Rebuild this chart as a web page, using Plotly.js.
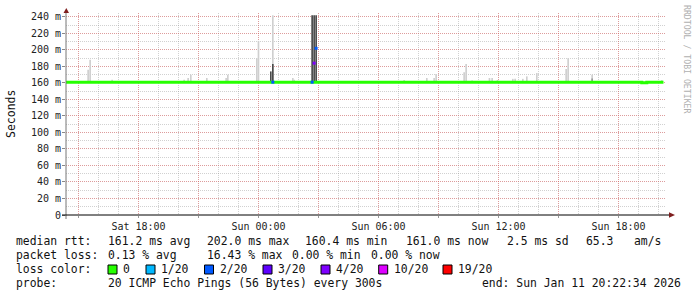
<!DOCTYPE html>
<html><head><meta charset="utf-8">
<script src="https://cdn.plot.ly/plotly-3.0.1.min.js"></script>
<style>html,body{margin:0;padding:0;background:#fff}#chart{width:697px;height:297px}</style>
</head><body><div id="chart"></div>
<script>
// ---------- data ----------
const rangeStart = '2026-01-10 14:22:34';
const rangeEnd = '2026-01-11 20:22:34';
const yMax = 244.8;

const tickTimes = ['2026-01-10 15:00','2026-01-10 18:00','2026-01-10 21:00','2026-01-11 00:00','2026-01-11 03:00',
  '2026-01-11 06:00','2026-01-11 09:00','2026-01-11 12:00','2026-01-11 15:00','2026-01-11 18:00'];
const tickLabels = ['','Sat 18:00','','Sun 00:00','','Sun 06:00','','Sun 12:00','','Sun 18:00'];
const yTickValues = [0,20,40,60,80,100,120,140,160,180,200,220,240];
const yTickLabels = ['0','20 m','40 m','60 m','80 m','100 m','120 m','140 m','160 m','180 m','200 m','220 m','240 m'];

const smokeBase = 160;
const lightTimes = ['2026-01-10 15:29','2026-01-10 15:35','2026-01-10 16:41','2026-01-10 20:17','2026-01-10 20:29',
  '2026-01-10 20:37','2026-01-10 21:25','2026-01-10 22:23','2026-01-10 22:28','2026-01-10 23:55',
  '2026-01-11 00:00','2026-01-11 00:43','2026-01-11 01:43','2026-01-11 01:47','2026-01-11 07:17',
  '2026-01-11 08:25','2026-01-11 08:47','2026-01-11 08:53','2026-01-11 10:17','2026-01-11 10:23',
  '2026-01-11 10:41','2026-01-11 11:33','2026-01-11 11:41','2026-01-11 11:57','2026-01-11 12:43',
  '2026-01-11 12:50','2026-01-11 13:13','2026-01-11 13:25','2026-01-11 13:55','2026-01-11 15:23',
  '2026-01-11 15:29','2026-01-11 16:41','2026-01-11 20:10'];
const lightTops = [176,188,164,164,166,170,166,166,170,190,
  211,242,166,164,163.5,166,166,171,173,183,
  163,166,166,163.5,165,165,165,168,172,177,
  190,170,163.5];
const midTimes = ['2026-01-11 16:41'];
const midTops = [165.5];
const darkTimes = ['2026-01-11 00:37','2026-01-11 00:43','2026-01-11 02:41','2026-01-11 02:47','2026-01-11 02:53'];
const darkTops = [174,183,242,242,242];

const medianTimes = ['2026-01-10 14:22:34','2026-01-11 19:10','2026-01-11 19:25','2026-01-11 20:15'];
const medianValues = [161,160.4,161,161];

const lossLabels = ['0','1/20','2/20','3/20','4/20','10/20','19/20'];
const lossColors = ['#26ff00','#00b8ff','#0059ff','#5e00ff','#7e00ff','#dd00ff','#ff0000'];
const lossTimes = ['2026-01-11 00:43','2026-01-11 02:41','2026-01-11 02:47','2026-01-11 02:53'];
const lossValues = [161,161,184,202];
const lossLevels = ['2/20','2/20','4/20','2/20'];

const rttStats = ['161.2 ms avg','202.0 ms max','160.4 ms min','161.0 ms now','2.5 ms sd','65.3','am/s'];
const lossStats = ['0.13 % avg','16.43 % max','0.00 % min','0.00 % now'];
const probeText = '20 ICMP Echo Pings (56 Bytes) every 300s';
const endText = 'end: Sun Jan 11 20:22:34 2026';

// ---------- layout helpers ----------
const L=66, R=666, T=13, B=215;
const px = x => (x-L)/(R-L);
const py = y => (B-y)/(B-T);
const mono = 'DejaVu Sans Mono';
const FIVE_MIN = 300000;

const traces = [
  {type:'bar', x:lightTimes, y:lightTops.map(v=>v-smokeBase), base:smokeBase, width:FIVE_MIN,
   marker:{color:'#cfcfcf', line:{width:0}}, hoverinfo:'skip'},
  {type:'bar', x:midTimes, y:midTops.map(v=>v-smokeBase), base:smokeBase, width:FIVE_MIN,
   marker:{color:'#999999', line:{width:0}}, hoverinfo:'skip'},
  {type:'bar', x:darkTimes, y:darkTops.map(v=>v-smokeBase), base:smokeBase, width:FIVE_MIN,
   marker:{color:'#4a4a4a', line:{width:0}}, hoverinfo:'skip'},
  {type:'scatter', mode:'lines', x:medianTimes, y:medianValues, line:{color:lossColors[0], width:3, shape:'hv'}, hoverinfo:'skip'},
  {type:'scatter', mode:'markers', x:lossTimes, y:lossValues,
   marker:{symbol:'square', size:3, color:lossLevels.map(l=>lossColors[lossLabels.indexOf(l)]), line:{width:0}}, hoverinfo:'skip'}
];

const ann = [];
const shapes = [];
function txt(x, y, text, opts={}) {
  ann.push(Object.assign({xref:'paper', yref:'paper', x:px(x), y:py(y), text:text.replace(/ /g,'\u00a0'),
    showarrow:false, xanchor:'left', yanchor:'middle', borderpad:0, borderwidth:0,
    font:{family:mono, size:11.4, color:'#111'}}, opts));
}
const rowY = [241, 255, 269, 283];
txt(16, rowY[0], 'median rtt:');
[108.3,207.3,305,406.3,507,586,634.3].forEach((x,i)=>txt(x,rowY[0],rttStats[i]));
txt(16, rowY[1], 'packet loss:');
[108.3,207.3,292,371].forEach((x,i)=>txt(x,rowY[1],lossStats[i]));
txt(16, rowY[2], 'loss color:');
const boxX = [108,146,204.5,263,321,378.7,443];
boxX.forEach((x,i)=>{
  shapes.push({type:'rect', xref:'paper', yref:'paper', x0:px(x), x1:px(x+9), y0:py(274), y1:py(265),
    fillcolor:lossColors[i], line:{color:'#000', width:1}, layer:'above'});
  txt(x+15, rowY[2], lossLabels[i]);
});
txt(16, rowY[3], 'probe:');
txt(107.6, rowY[3], probeText);
txt(681, rowY[3], endText, {xanchor:'right'});
// y title
ann.push({xref:'paper', yref:'paper', x:px(11), y:py(114), text:'Seconds', textangle:-90, showarrow:false,
  xanchor:'center', yanchor:'middle', font:{family:mono, size:11.5, color:'#111'}});
// watermark
ann.push({xref:'paper', yref:'paper', x:px(687), y:py(59), text:'RRDTOOL / TOBI OETIKER', textangle:90, showarrow:false,
  xanchor:'center', yanchor:'middle', font:{family:mono, size:8.2, color:'#b0b0b0'}});

// axis lines and arrows
shapes.push({type:'line', xref:'paper', yref:'paper', x0:px(66), x1:px(66), y0:py(219), y1:py(10), line:{color:'#777', width:1}, layer:'above'});
shapes.push({type:'line', xref:'paper', yref:'paper', x0:px(62), x1:px(670), y0:py(215), y1:py(215), line:{color:'#000', width:1}, layer:'above'});
shapes.push({type:'path', xref:'paper', yref:'paper', path:`M ${px(63.5)} ${py(13)} L ${px(69)} ${py(13)} L ${px(66.3)} ${py(8)} Z`,
  fillcolor:'#7f1f1f', line:{width:0}, layer:'above'});
shapes.push({type:'path', xref:'paper', yref:'paper', path:`M ${px(669)} ${py(212.3)} L ${px(669)} ${py(217.7)} L ${px(675)} ${py(215)} Z`,
  fillcolor:'#7f1f1f', line:{width:0}, layer:'above'});

const majorGrid = 'rgba(235,90,90,0.45)';
const minorGrid = 'rgba(140,140,140,0.40)';
const layout = {
  width:697, height:297, margin:{l:L, r:697-R, t:T, b:297-B, pad:0},
  paper_bgcolor:'#fff', plot_bgcolor:'#fff', showlegend:false, barmode:'overlay',
  xaxis:{type:'date', range:[rangeStart, rangeEnd], tickmode:'array', tickvals:tickTimes, ticktext:tickLabels,
    showgrid:true, gridcolor:majorGrid, griddash:'1px,1px', gridwidth:1,
    minor:{dtick:3600000, tick0:'2026-01-10 15:00', showgrid:true, gridcolor:minorGrid, griddash:'1px,1px', gridwidth:1},
    ticks:'outside', ticklen:2, tickcolor:'#999', showline:false, zeroline:false,
    tickfont:{family:mono, size:10, color:'#222'}, fixedrange:true},
  yaxis:{range:[0,yMax], tickmode:'array', tickvals:yTickValues, ticktext:yTickLabels,
    showgrid:true, gridcolor:majorGrid, griddash:'1px,1px', gridwidth:1,
    minor:{dtick:10, tick0:0, showgrid:true, gridcolor:minorGrid, griddash:'1px,1px', gridwidth:1},
    ticks:'outside', ticklen:3, tickcolor:'#888', showline:false, zeroline:false, ticklabelstandoff:-1,
    tickfont:{family:mono, size:10, color:'#222'}, fixedrange:true},
  annotations:ann, shapes:shapes
};
Plotly.newPlot('chart', traces, layout, {staticPlot:true, displayModeBar:false});
</script>
</body></html>
